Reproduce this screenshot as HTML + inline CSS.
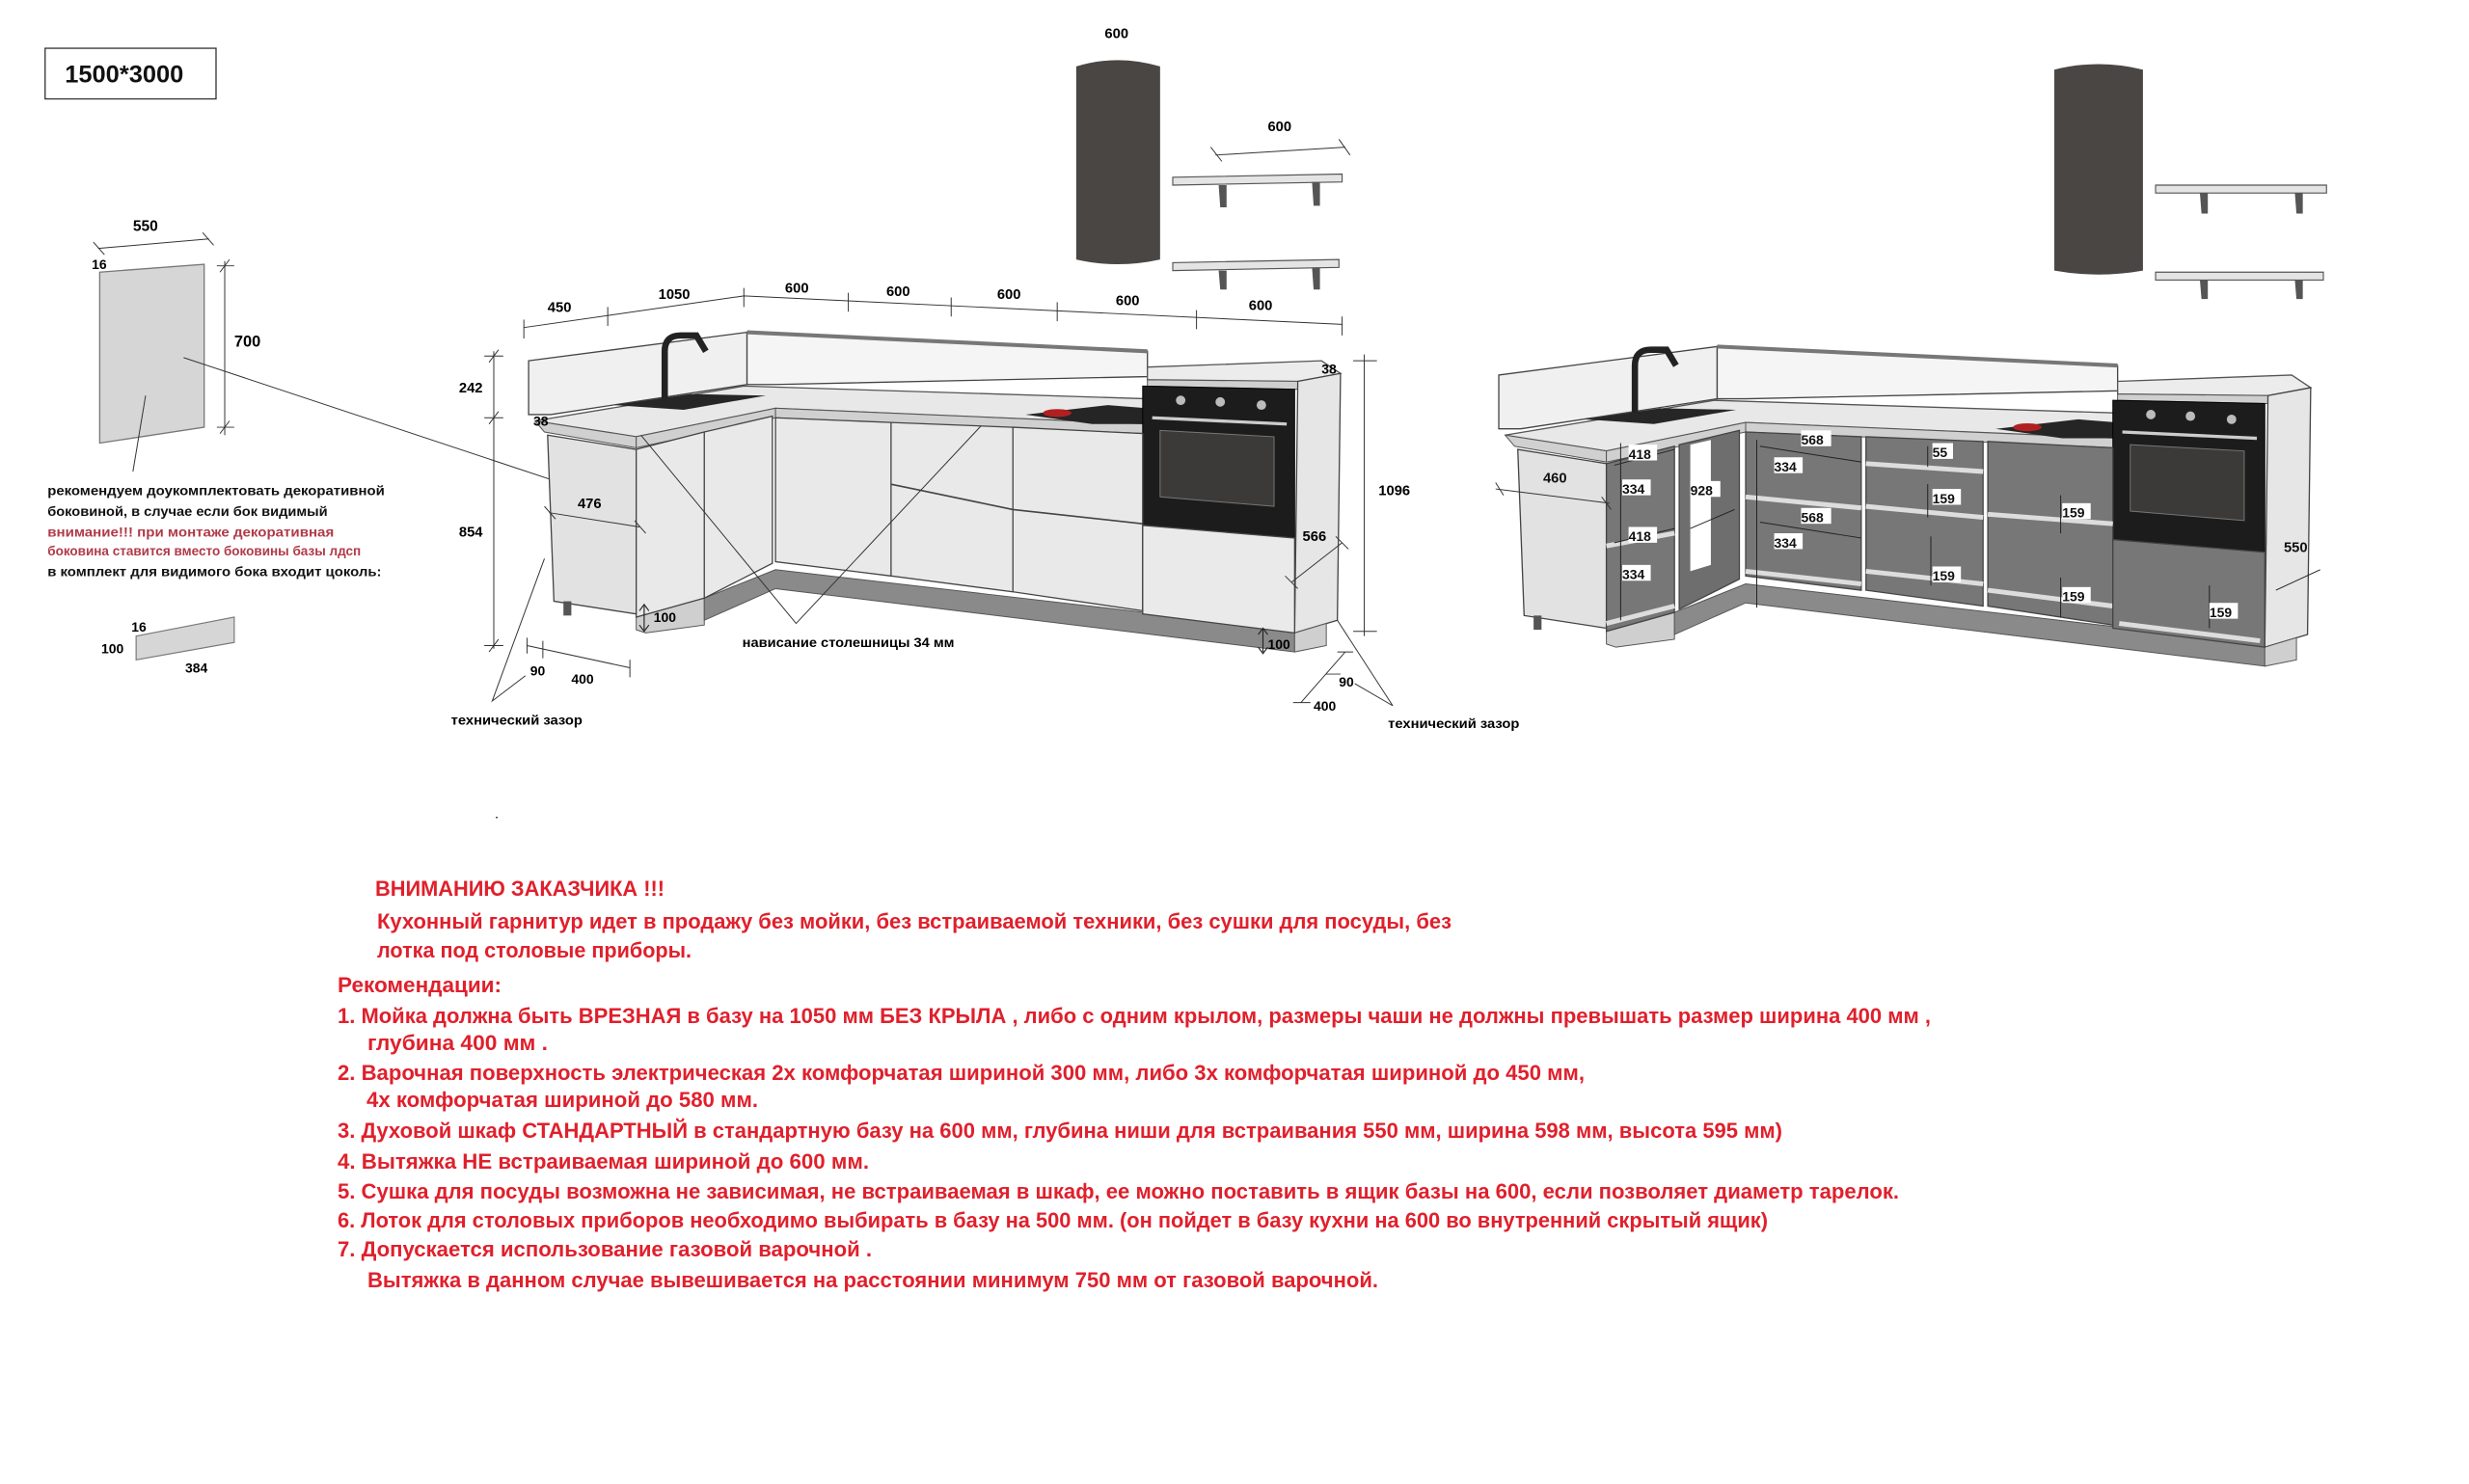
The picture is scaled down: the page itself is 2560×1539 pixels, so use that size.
<!DOCTYPE html>
<html><head><meta charset="utf-8"><style>
html,body{margin:0;padding:0;background:#fff;}
svg{display:block;}
text{font-family:"Liberation Sans","DejaVu Sans",sans-serif;font-weight:bold;}
</style></head><body>
<svg width="2560" height="1539" viewBox="0 0 2560 1539" xmlns="http://www.w3.org/2000/svg">
<rect width="2560" height="1539" fill="#fff"/>
<defs>
<g id="shell">
  <path d="M334,228 L472,210 L472,243 L348,262 L334,262 Z" fill="#f0f0f0" stroke="#444" stroke-width="0.8"/>
  <path d="M472,210 L725,222 L725,238 L490,243 L472,243 Z" fill="#f5f5f5" stroke="#444" stroke-width="0.8"/>
  <path d="M472,210 L725,222" stroke="#777" stroke-width="2.5"/>
  <path d="M338,266 L470,244 L725,252 L725,268 L490,258 L402,276 Z" fill="#e8e8e8" stroke="#555" stroke-width="0.8"/>
  <path d="M338,266 L402,276 L402,283 L344,273 Z" fill="#d0d0d0" stroke="#555" stroke-width="0.6"/>
  <path d="M402,276 L490,258 L490,264 L402,283 Z" fill="#d0d0d0" stroke="#555" stroke-width="0.6"/>
  <path d="M490,258 L725,268 L725,274 L490,264 Z" fill="#d0d0d0" stroke="#555" stroke-width="0.6"/>
  <path d="M388,256 L436,249 L484,250 L432,259 Z" fill="#262626"/>
  <path d="M420,252 L420,222 Q420,212 430,212 L440,212 L446,222" fill="none" stroke="#222" stroke-width="4"/>
  <path d="M648,262 L700,256 L725,258 L725,268 L690,268 Z" fill="#252525"/>
  <ellipse cx="668" cy="261" rx="9" ry="2.5" fill="#b02020"/>
  <path d="M346,275 L402,284 L402,388 L350,380 Z" fill="#e2e2e2" stroke="#444" stroke-width="0.8"/>
  <rect x="356" y="380" width="5" height="9" fill="#555"/>
  <path d="M402,388 L445,378 L445,395 L408,400 L402,398 Z" fill="#cfcfcf" stroke="#555" stroke-width="0.6"/>
  <path d="M445,378 L490,360 L818,398 L818,412 L490,372 L445,392 Z" fill="#8a8a8a" stroke="#555" stroke-width="0.6"/>
  <path d="M725,232 L835,228 L847,236 L820,241 L725,240 Z" fill="#ececec" stroke="#555" stroke-width="0.8"/>
  <path d="M725,240 L820,241 L820,246 L725,244 Z" fill="#cfcfcf" stroke="#555" stroke-width="0.6"/>
  <path d="M820,241 L847,236 L845,392 L818,400 Z" fill="#e6e6e6" stroke="#444" stroke-width="0.8"/>
  <path d="M818,400 L838,394 L838,408 L818,412 Z" fill="#cfcfcf" stroke="#555" stroke-width="0.6"/>
  <path d="M722,244 L818,246 L818,340 L722,332 Z" fill="#1c1c1c" stroke="#000" stroke-width="0.6"/>
  <circle cx="746" cy="253" r="3" fill="#bbb"/><circle cx="771" cy="254" r="3" fill="#bbb"/><circle cx="797" cy="256" r="3" fill="#bbb"/>
  <path d="M728,264 L813,268" stroke="#ccc" stroke-width="2"/>
  <path d="M733,272 L805,276 L805,320 L733,314 Z" fill="#3c3a38" stroke="#777" stroke-width="0.6"/>
</g>
</defs>

<g transform="scale(1.641)">
  <rect x="28.5" y="30.5" width="108" height="32" fill="#fff" stroke="#333" stroke-width="0.8"/>
  <text x="41" y="52" font-size="15.5" fill="#111">1500*3000</text>

  <path d="M63,172 L129,167 L129,270 L63,280 Z" fill="#d6d6d6" stroke="#777" stroke-width="0.8"/>
  <path d="M62,157 L132,151" stroke="#333" stroke-width="0.6"/>
  <path d="M59,153 L66,161 M128,147 L135,155" stroke="#333" stroke-width="0.6"/>
  <path d="M142,165 L142,275 M137,168 L148,168 M137,270 L148,270 M139,172 L145,164 M139,274 L145,266" stroke="#333" stroke-width="0.6"/>
  <text x="84" y="146" font-size="9.5">550</text>
  <text x="58" y="170" font-size="8.5">16</text>
  <text x="148" y="219" font-size="10">700</text>
  <path d="M92,250 L84,298" stroke="#333" stroke-width="0.6"/>
  <path d="M116,226 L360,307" stroke="#333" stroke-width="0.6"/>
  <text x="30" y="313" font-size="8.3" fill="#111" textLength="213" lengthAdjust="spacingAndGlyphs">рекомендуем доукомплектовать декоративной</text>
  <text x="30" y="326" font-size="8.3" fill="#111" textLength="177" lengthAdjust="spacingAndGlyphs">боковиной, в случае если бок видимый</text>
  <text x="30" y="339" font-size="8.3" fill="#b03a48" textLength="181" lengthAdjust="spacingAndGlyphs">внимание!!! при монтаже декоративная</text>
  <text x="30" y="351" font-size="8.3" fill="#b03a48" textLength="198" lengthAdjust="spacingAndGlyphs">боковина ставится вместо боковины базы лдсп</text>
  <text x="30" y="364" font-size="8.3" fill="#111" textLength="211" lengthAdjust="spacingAndGlyphs">в комплект для видимого бока входит цоколь:</text>
  <path d="M86,402 L148,390 L148,406 L86,417 Z" fill="#d6d6d6" stroke="#777" stroke-width="0.7"/>
  <text x="83" y="399" font-size="8.5">16</text>
  <text x="64" y="413" font-size="8.5">100</text>
  <text x="117" y="425" font-size="8.5">384</text>

  <use href="#shell"/>
  <path d="M402,284 L445,273 L445,378 L402,390 Z M445,273 L488,263 L488,356 L445,378 Z" fill="#e9e9e9" stroke="#444" stroke-width="0.8"/>
  <path d="M490,264 L563,267 L563,364 L490,355 Z M563,267 L640,270 L640,374 L563,364 Z M640,270 L722,274 L722,386 L640,374 Z" fill="#e9e9e9" stroke="#444" stroke-width="0.8"/>
  <path d="M563,306 L640,322 M640,322 L722,331" stroke="#444" stroke-width="1"/>
  <path d="M722,332 L818,340 L818,400 L722,388 Z" fill="#eaeaea" stroke="#444" stroke-width="0.8"/>

  <path d="M680,42 Q706,34 733,42 L733,164 Q706,170 680,164 Z" fill="#4a4644"/>
  <path d="M741,112 L848,110 L848,115 L741,117 Z" fill="#e4e4e4" stroke="#555" stroke-width="0.7"/>
  <path d="M770,117 L775,117 L775,131 L771,131 Z M829,115 L834,115 L834,130 L830,130 Z" fill="#555"/>
  <path d="M741,166 L846,164 L846,169 L741,171 Z" fill="#e4e4e4" stroke="#555" stroke-width="0.7"/>
  <path d="M770,171 L775,171 L775,183 L771,183 Z M829,169 L834,169 L834,183 L830,183 Z" fill="#555"/>
  <text x="698" y="24" font-size="9">600</text>
  <text x="801" y="83" font-size="9">600</text>
  <path d="M768,98 L850,93 M765,93 L772,102 M846,88 L853,98" stroke="#333" stroke-width="0.6"/>

  <path d="M331,207 L470,187 L848,205" fill="none" stroke="#333" stroke-width="0.6"/>
  <path d="M331,202 L331,214 M384,194 L384,206 M470,182 L470,194 M536,185 L536,197 M601,188 L601,200 M668,191 L668,203 M756,196 L756,208 M848,200 L848,212" stroke="#333" stroke-width="0.6"/>
  <text x="346" y="197" font-size="9">450</text>
  <text x="416" y="189" font-size="9">1050</text>
  <text x="496" y="185" font-size="9">600</text>
  <text x="560" y="187" font-size="9">600</text>
  <text x="630" y="189" font-size="9">600</text>
  <text x="705" y="193" font-size="9">600</text>
  <text x="789" y="196" font-size="9">600</text>
  <path d="M312,222 L312,410 M306,225 L318,225 M306,264 L318,264 M306,408 L318,408 M309,229 L315,221 M309,268 L315,260 M309,412 L315,404" stroke="#333" stroke-width="0.6"/>
  <text x="290" y="248" font-size="9">242</text>
  <text x="337" y="269" font-size="8.5">38</text>
  <text x="290" y="339" font-size="9">854</text>
  <path d="M862,224 L862,402 M855,228 L870,228 M855,399 L870,399" stroke="#333" stroke-width="0.6"/>
  <text x="871" y="313" font-size="9">1096</text>
  <text x="835" y="236" font-size="8.5">38</text>
  <path d="M347,324 L404,333 M344,320 L351,328 M401,329 L408,337" stroke="#333" stroke-width="0.6"/>
  <text x="365" y="321" font-size="9">476</text>
  <path d="M816,368 L848,343 M812,364 L820,372 M844,339 L852,347" stroke="#333" stroke-width="0.6"/>
  <text x="823" y="342" font-size="9">566</text>
  <path d="M407,383 L407,398 M404,386 L407,382 L410,386 M404,395 L407,399 L410,395" stroke="#222" stroke-width="0.7" fill="none"/>
  <text x="413" y="393" font-size="8.5">100</text>
  <path d="M798,398 L798,412 M795,401 L798,397 L801,401 M795,409 L798,413 L801,409" stroke="#222" stroke-width="0.7" fill="none"/>
  <text x="801" y="410" font-size="8.5">100</text>
  <path d="M333,408 L398,422 M333,403 L333,413 M343,405 L343,416 M398,417 L398,428" stroke="#333" stroke-width="0.6"/>
  <text x="335" y="427" font-size="8.5">90</text>
  <text x="361" y="432" font-size="8.5">400</text>
  <path d="M822,444 L850,412 M817,444 L828,444 M838,426 L847,426 M845,412 L855,412" stroke="#333" stroke-width="0.6"/>
  <text x="846" y="434" font-size="8.5">90</text>
  <text x="830" y="449" font-size="8.5">400</text>
  <path d="M405,275 L503,394 L620,269" fill="none" stroke="#333" stroke-width="0.6"/>
  <text x="469" y="409" font-size="8.3" textLength="134" lengthAdjust="spacingAndGlyphs">нависание столешницы 34 мм</text>
  <path d="M344,353 L311,443 L332,427" fill="none" stroke="#333" stroke-width="0.6"/>
  <text x="285" y="458" font-size="8.3" textLength="83" lengthAdjust="spacingAndGlyphs">технический зазор</text>
  <path d="M845,392 L880,446 L856,432" fill="none" stroke="#333" stroke-width="0.6"/>
  <text x="877" y="460" font-size="8.3" textLength="83" lengthAdjust="spacingAndGlyphs">технический зазор</text>
  <text x="313" y="517" font-size="6">.</text>

  <g transform="translate(613,9)">
    <use href="#shell"/>
    <path d="M402,284 L445,273 L445,378 L402,390 Z" fill="#777" stroke="#444" stroke-width="0.8"/>
    <path d="M448,272 L486,263 L486,357 L448,376 Z" fill="#6e6e6e" stroke="#444" stroke-width="0.8"/>
    <path d="M455,272 L468,269 L468,348 L455,352 Z" fill="#fff"/>
    <path d="M402,336 L445,328 M402,385 L445,374" stroke="#ddd" stroke-width="3"/>
    <path d="M490,264 L563,267 L563,364 L490,355 Z M566,267 L640,270 L640,374 L566,364 Z M643,270 L722,274 L722,386 L643,374 Z" fill="#777" stroke="#444" stroke-width="0.8"/>
    <path d="M490,305 L563,312 M490,352 L563,360 M566,284 L640,289 M566,311 L640,318 M566,352 L640,360 M643,316 L722,322 M643,364 L722,374" stroke="#ddd" stroke-width="3"/>
    <path d="M722,332 L818,340 L818,400 L722,388 Z" fill="#777" stroke="#444" stroke-width="0.8"/>
    <path d="M726,385 L815,396" stroke="#ddd" stroke-width="3"/>
  </g>
  <path d="M1298,44 Q1326,37 1354,44 L1354,171 Q1326,176 1298,171 Z" fill="#4a4644"/>
  <path d="M1362,117 L1470,117 L1470,122 L1362,122 Z" fill="#e4e4e4" stroke="#555" stroke-width="0.7"/>
  <path d="M1390,122 L1395,122 L1395,135 L1391,135 Z M1450,122 L1455,122 L1455,135 L1451,135 Z" fill="#555"/>
  <path d="M1362,172 L1468,172 L1468,177 L1362,177 Z" fill="#e4e4e4" stroke="#555" stroke-width="0.7"/>
  <path d="M1390,177 L1395,177 L1395,189 L1391,189 Z M1450,177 L1455,177 L1455,189 L1451,189 Z" fill="#555"/>

  <g font-size="8.5" fill="#111">
    <path d="M945,309 L1017,318 M945,305 L950,313 M1012,314 L1018,322" stroke="#333" stroke-width="0.6"/>
    <text x="975" y="305" font-size="9">460</text>
    <path d="M1024,280 L1024,392 M1020,294 L1058,284 M1020,343 L1058,334 M1068,334 L1096,322 M1110,278 L1110,384 M1112,282 L1176,292 M1112,330 L1176,340 M1218,282 L1218,295 M1218,306 L1218,327 M1220,339 L1220,370 M1302,313 L1302,337 M1302,365 L1302,390 M1396,370 L1396,397 M1438,373 L1466,360" stroke="#222" stroke-width="0.6" fill="none"/>
    <g fill="#fff">
      <rect x="1029" y="281" width="18" height="10"/><rect x="1025" y="303" width="18" height="10"/>
      <rect x="1068" y="304" width="19" height="10"/><rect x="1029" y="333" width="18" height="10"/>
      <rect x="1025" y="357" width="18" height="10"/><rect x="1138" y="272" width="19" height="10"/>
      <rect x="1121" y="289" width="18" height="10"/><rect x="1138" y="321" width="19" height="10"/>
      <rect x="1121" y="337" width="18" height="10"/><rect x="1221" y="280" width="13" height="10"/>
      <rect x="1221" y="309" width="18" height="10"/><rect x="1303" y="318" width="18" height="10"/>
      <rect x="1221" y="358" width="18" height="10"/><rect x="1303" y="371" width="18" height="10"/>
      <rect x="1396" y="381" width="18" height="10"/>
    </g>
    <text x="1029" y="290">418</text><text x="1025" y="312">334</text>
    <text x="1068" y="313">928</text><text x="1029" y="342">418</text>
    <text x="1025" y="366">334</text><text x="1138" y="281">568</text>
    <text x="1121" y="298">334</text><text x="1138" y="330">568</text>
    <text x="1121" y="346">334</text><text x="1221" y="289">55</text>
    <text x="1221" y="318">159</text><text x="1303" y="327">159</text>
    <text x="1221" y="367">159</text><text x="1303" y="380">159</text>
    <text x="1396" y="390">159</text>
    <text x="1443" y="349" font-size="9">550</text>
  </g>
</g>

<g fill="#e0202c" font-size="22">
  <text x="389" y="929" textLength="300" lengthAdjust="spacingAndGlyphs">ВНИМАНИЮ ЗАКАЗЧИКА !!!</text>
  <text x="391" y="963" textLength="1114" lengthAdjust="spacingAndGlyphs">Кухонный гарнитур идет в продажу без мойки, без встраиваемой техники, без сушки для посуды, без</text>
  <text x="391" y="993" textLength="326" lengthAdjust="spacingAndGlyphs">лотка под столовые приборы.</text>
  <text x="350" y="1029" textLength="170" lengthAdjust="spacingAndGlyphs">Рекомендации:</text>
  <text x="350" y="1061" textLength="1652" lengthAdjust="spacingAndGlyphs">1.  Мойка должна быть ВРЕЗНАЯ в базу на 1050 мм БЕЗ КРЫЛА , либо с одним крылом, размеры чаши  не должны превышать размер ширина  400  мм ,</text>
  <text x="381" y="1089" textLength="187" lengthAdjust="spacingAndGlyphs">глубина  400 мм .</text>
  <text x="350" y="1120" textLength="1293" lengthAdjust="spacingAndGlyphs">2.  Варочная поверхность электрическая 2х комфорчатая шириной 300 мм, либо 3х комфорчатая шириной до 450 мм,</text>
  <text x="380" y="1148" textLength="406" lengthAdjust="spacingAndGlyphs">4х комфорчатая шириной до 580 мм.</text>
  <text x="350" y="1180" textLength="1498" lengthAdjust="spacingAndGlyphs">3. Духовой шкаф СТАНДАРТНЫЙ в стандартную базу на 600 мм, глубина ниши для встраивания 550 мм, ширина 598 мм, высота 595 мм)</text>
  <text x="350" y="1212" textLength="551" lengthAdjust="spacingAndGlyphs">4. Вытяжка НЕ встраиваемая шириной до 600 мм.</text>
  <text x="350" y="1243" textLength="1619" lengthAdjust="spacingAndGlyphs">5.  Сушка для посуды  возможна не зависимая, не встраиваемая в шкаф, ее можно поставить в ящик базы на 600, если позволяет диаметр тарелок.</text>
  <text x="350" y="1273" textLength="1483" lengthAdjust="spacingAndGlyphs">6.  Лоток для столовых приборов необходимо выбирать в базу на 500 мм. (он пойдет в базу кухни на 600 во внутренний скрытый ящик)</text>
  <text x="350" y="1303" textLength="554" lengthAdjust="spacingAndGlyphs">7.  Допускается использование газовой варочной .</text>
  <text x="381" y="1335" textLength="1048" lengthAdjust="spacingAndGlyphs">Вытяжка в данном случае вывешивается на расстоянии минимум 750 мм от газовой варочной.</text>
</g>
</svg>
</body></html>
